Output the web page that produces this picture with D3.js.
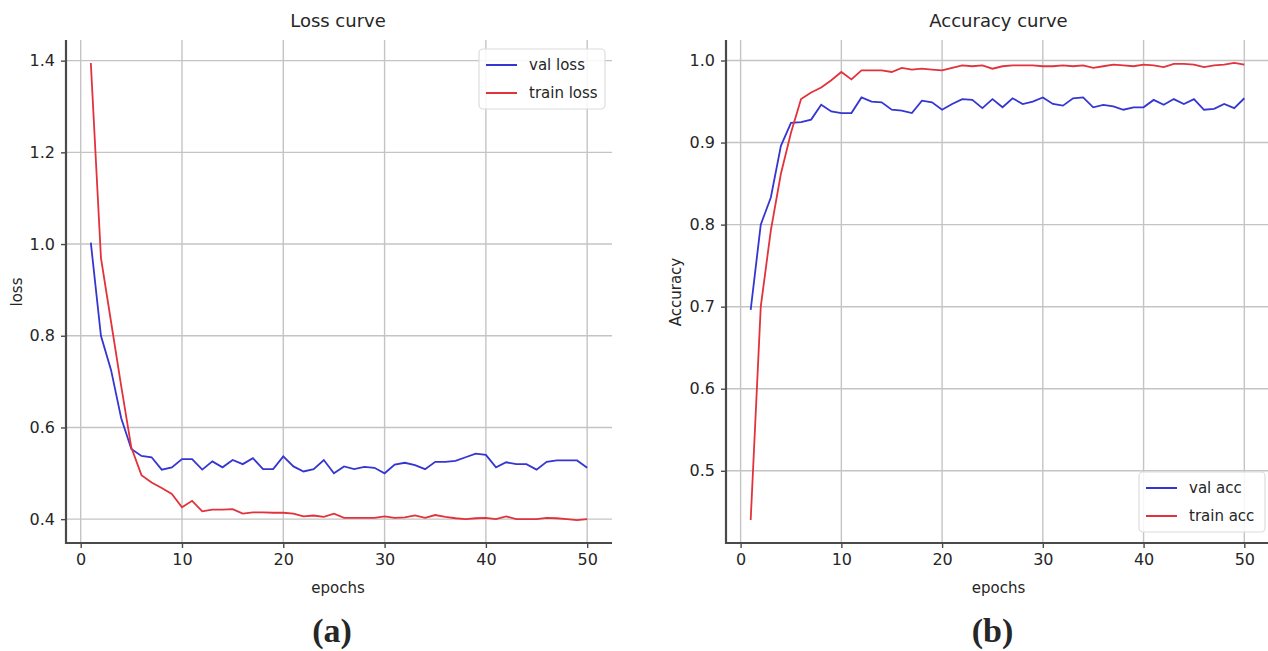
<!DOCTYPE html>
<html>
<head>
<meta charset="utf-8">
<script src="https://cdn.jsdelivr.net/npm/d3@7"></script>
<style>
  body { margin: 0; background: #fff; }
  text { font-family: "DejaVu Sans", sans-serif; fill: #262626; }
</style>
</head>
<body>
<div id="svg"></div>
<script>
// tamaño del SVG
const width = 1268;
const height = 651;

// datos (épocas 1..50)
const epochs = d3.range(1, 51);

const valLoss = [1.003, 0.80, 0.725, 0.62, 0.553, 0.538, 0.535, 0.508, 0.513, 0.531,
    0.531, 0.508, 0.526, 0.513, 0.529, 0.52, 0.533, 0.509, 0.509, 0.537,
    0.515, 0.504, 0.509, 0.529, 0.50, 0.515, 0.509, 0.514, 0.512, 0.50,
    0.519, 0.523, 0.518, 0.509, 0.525, 0.525, 0.527, 0.535, 0.543, 0.540,
    0.513, 0.524, 0.52, 0.52, 0.508, 0.525, 0.528, 0.528, 0.528, 0.512];

const trainLoss = [1.395, 0.97, 0.83, 0.69, 0.556, 0.496, 0.48, 0.468, 0.455, 0.426,
    0.44, 0.417, 0.421, 0.421, 0.422, 0.412, 0.415, 0.415, 0.414, 0.414,
    0.412, 0.406, 0.408, 0.405, 0.412, 0.403, 0.403, 0.403, 0.403, 0.406,
    0.403, 0.404, 0.408, 0.403, 0.409, 0.405, 0.402, 0.40, 0.402, 0.403,
    0.40, 0.406, 0.40, 0.40, 0.40, 0.403, 0.402, 0.40, 0.398, 0.40];

const valAcc = [0.696, 0.80, 0.833, 0.896, 0.924, 0.925, 0.928, 0.946, 0.938, 0.936,
    0.936, 0.955, 0.95, 0.949, 0.940, 0.939, 0.936, 0.951, 0.949, 0.940,
    0.947, 0.953, 0.952, 0.942, 0.953, 0.943, 0.954, 0.947, 0.950, 0.955,
    0.947, 0.945, 0.954, 0.955, 0.943, 0.946, 0.944, 0.940, 0.943, 0.943,
    0.952, 0.946, 0.953, 0.947, 0.953, 0.940, 0.941, 0.947, 0.942, 0.954];

const trainAcc = [0.44, 0.70, 0.793, 0.862, 0.912, 0.953, 0.961, 0.967, 0.976, 0.986,
    0.977, 0.988, 0.988, 0.988, 0.986, 0.991, 0.989, 0.990, 0.989, 0.988,
    0.991, 0.994, 0.993, 0.994, 0.990, 0.993, 0.994, 0.994, 0.994, 0.993,
    0.993, 0.994, 0.993, 0.994, 0.991, 0.993, 0.995, 0.994, 0.993, 0.995,
    0.994, 0.992, 0.996, 0.996, 0.995, 0.992, 0.994, 0.995, 0.997, 0.995];

const xTicks = [0, 10, 20, 30, 40, 50];
const lossTicks = [0.4, 0.6, 0.8, 1.0, 1.2, 1.4];
const accTicks = [0.5, 0.6, 0.7, 0.8, 0.9, 1.0];

const blue = "#3535d2";
const red = "#e2323c";

const svg = d3
    .select("#svg")
    .append("svg")
    .attr("width", width)
    .attr("height", height);

// dibuja un panel completo
const dibujarPanel = (cfg) => {
    const x = d3.scaleLinear().domain([-1.45, 52.45]).range([cfg.left, cfg.right]);
    const y = d3.scaleLinear().domain(cfg.yDomain).range([543, 40]);
    const g = svg.append("g");

    // grilla
    g.append("g")
        .attr("stroke", "#c4c4c4")
        .attr("stroke-width", 1.4)
        .selectAll("line.v")
        .data(xTicks)
        .join("line")
        .attr("x1", (d) => x(d)).attr("x2", (d) => x(d))
        .attr("y1", 40).attr("y2", 543);
    g.append("g")
        .attr("stroke", "#c4c4c4")
        .attr("stroke-width", 1.4)
        .selectAll("line.h")
        .data(cfg.yTicks)
        .join("line")
        .attr("x1", cfg.left).attr("x2", cfg.right)
        .attr("y1", (d) => y(d)).attr("y2", (d) => y(d));

    // ejes
    const ejeX = g.append("g")
        .attr("transform", "translate(0,543)")
        .call(d3.axisBottom(x).tickValues(xTicks).tickFormat(d3.format("d")).tickSize(5).tickPadding(6));
    const ejeY = g.append("g")
        .attr("transform", `translate(${cfg.left},0)`)
        .call(d3.axisLeft(y).tickValues(cfg.yTicks).tickFormat(d3.format(".1f")).tickSize(5).tickPadding(6));
    [ejeX, ejeY].forEach((e) => {
        e.select(".domain").attr("stroke", "#4a4a4a").attr("stroke-width", 2.2)
            .attr("d", null);
        e.selectAll(".tick line").attr("stroke", "#4a4a4a").attr("stroke-width", 1.4);
        e.selectAll(".tick text").style("font-family", "DejaVu Sans").style("font-size", "16px").attr("fill", "#262626");
    });
    ejeX.select(".domain").remove();
    ejeY.select(".domain").remove();
    g.append("line").attr("x1", cfg.left).attr("x2", cfg.right).attr("y1", 543).attr("y2", 543)
        .attr("stroke", "#4a4a4a").attr("stroke-width", 2.2);
    g.append("line").attr("x1", cfg.left).attr("x2", cfg.left).attr("y1", 40).attr("y2", 544)
        .attr("stroke", "#4a4a4a").attr("stroke-width", 2.2);

    // curvas
    const linea = d3.line().x((d, i) => x(epochs[i])).y((d) => y(d));
    cfg.series.forEach((s) => {
        g.append("path")
            .datum(s.values)
            .attr("fill", "none")
            .attr("stroke", s.color)
            .attr("stroke-width", 1.8)
            .attr("d", linea);
    });

    // textos
    const cx = (cfg.left + cfg.right) / 2 - cfg.shift;
    g.append("text").attr("x", cx).attr("y", 27).attr("text-anchor", "middle")
        .style("font-size", "18px").text(cfg.title);
    g.append("text").attr("x", cx).attr("y", 593).attr("text-anchor", "middle")
        .style("font-size", "15px").text("epochs");
    g.append("text")
        .attr("transform", `translate(${cfg.yLabelX},292) rotate(-90)`)
        .attr("text-anchor", "middle")
        .style("font-size", "15px").text(cfg.yLabel);
    g.append("text").attr("x", cx - 6).attr("y", 642).attr("text-anchor", "middle")
        .style("font-family", "Liberation Serif, serif").style("font-weight", "bold")
        .style("font-size", "34px").attr("fill", "#000").text(cfg.panel);

    // leyenda
    const L = cfg.legend;
    g.append("rect")
        .attr("x", L.x).attr("y", L.y).attr("width", L.w).attr("height", 60)
        .attr("rx", 4).attr("fill", "#fff").attr("fill-opacity", 0.85)
        .attr("stroke", "#dcdcdc").attr("stroke-width", 1.2);
    cfg.series.forEach((s, i) => {
        const yy = L.y + 16 + i * 28;
        g.append("line").attr("x1", L.x + 7).attr("x2", L.x + 38).attr("y1", yy).attr("y2", yy)
            .attr("stroke", s.color).attr("stroke-width", 2);
        g.append("text").attr("x", L.x + 50).attr("y", yy + 5)
            .style("font-size", "15px").text(s.name);
    });
};

dibujarPanel({
    left: 66, right: 612, yDomain: [0.348, 1.445], yTicks: lossTicks,
    title: "Loss curve", yLabel: "loss", yLabelX: 22, panel: "(a)", shift: 1,
    legend: { x: 479, y: 49, w: 126 },
    series: [
        { name: "val loss", values: valLoss, color: blue },
        { name: "train loss", values: trainLoss, color: red },
    ],
});

dibujarPanel({
    left: 726, right: 1269, yDomain: [0.412, 1.025], yTicks: accTicks,
    title: "Accuracy curve", yLabel: "Accuracy", yLabelX: 681, panel: "(b)", shift: -1,
    legend: { x: 1139, y: 472, w: 126 },
    series: [
        { name: "val acc", values: valAcc, color: blue },
        { name: "train acc", values: trainAcc, color: red },
    ],
});
</script>
</body>
</html>
